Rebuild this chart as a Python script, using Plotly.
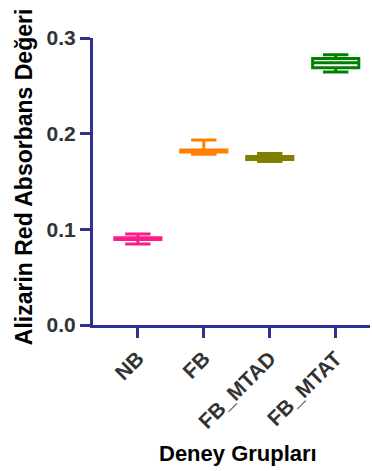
import plotly.graph_objects as go

categories = ["NB", "FB", "FB_MTAD", "FB_MTAT"]
colors = ["#FF1A8C", "#FF8000", "#808000", "#008000"]
lower_fence = [0.0847, 0.1785, 0.1709, 0.2645]
q1_vals = [0.0895, 0.1808, 0.1730, 0.2690]
median_vals = [0.0904, 0.1818, 0.1745, 0.2740]
q3_vals = [0.0913, 0.1829, 0.1761, 0.2785]
upper_fence = [0.0951, 0.1934, 0.1793, 0.2825]
y_ticks = [0.0, 0.1, 0.2, 0.3]
y_ticktext = ["0.0", "0.1", "0.2", "0.3"]

axis_color = "#2E3192"
font_family = "Liberation Sans, Arial, sans-serif"

fig = go.Figure()
for i, cat in enumerate(categories):
    fig.add_trace(go.Box(
        x=[i], q1=[q1_vals[i]], median=[median_vals[i]], q3=[q3_vals[i]],
        lowerfence=[lower_fence[i]], upperfence=[upper_fence[i]],
        name=cat, boxpoints=False, width=0.7, whiskerwidth=0.55,
        line=dict(color=colors[i], width=3), fillcolor="white",
        showlegend=False, hoverinfo="skip",
    ))

fig.update_layout(
    width=372, height=471,
    margin=dict(l=93, r=2, t=38, b=146),
    paper_bgcolor="white", plot_bgcolor="white",
    font=dict(family=font_family, size=21, color="#333333", weight="bold"),
    xaxis=dict(
        range=[-0.68, 3.52], tickmode="array", tickvals=list(range(len(categories))),
        ticktext=categories, tickangle=-45, automargin=False,
        showline=True, linewidth=3, linecolor=axis_color,
        ticks="outside", ticklen=10, tickwidth=3, tickcolor=axis_color,
        showgrid=False, zeroline=False,
        tickfont=dict(family=font_family, size=21, color="#333333", weight="bold"),
    ),
    yaxis=dict(
        range=[0, 0.3], tickmode="array", tickvals=y_ticks, ticktext=y_ticktext,
        automargin=False,
        showline=True, linewidth=3, linecolor=axis_color,
        ticks="outside", ticklen=10, tickwidth=3, tickcolor=axis_color,
        showgrid=False, zeroline=False,
        tickfont=dict(family=font_family, size=21, color="#333333", weight="bold"),
    ),
    annotations=[
        dict(text="Deney Grupları", xref="paper", yref="paper",
             x=0.523, y=-0.449, showarrow=False, xanchor="center", yanchor="middle",
             font=dict(family=font_family, size=22, color="black", weight="bold")),
        dict(text="Alizarin Red Absorbans Değeri", xref="paper", yref="paper",
             x=-0.249, y=0.515, showarrow=False, textangle=-90,
             xanchor="center", yanchor="middle",
             font=dict(family=font_family, size=23, color="black", weight="bold")),
    ],
)

fig.write_html(
    "out.html",
    config={"displayModeBar": False},
    post_script="document.body.style.margin='0';document.body.style.overflow='hidden';",
)
